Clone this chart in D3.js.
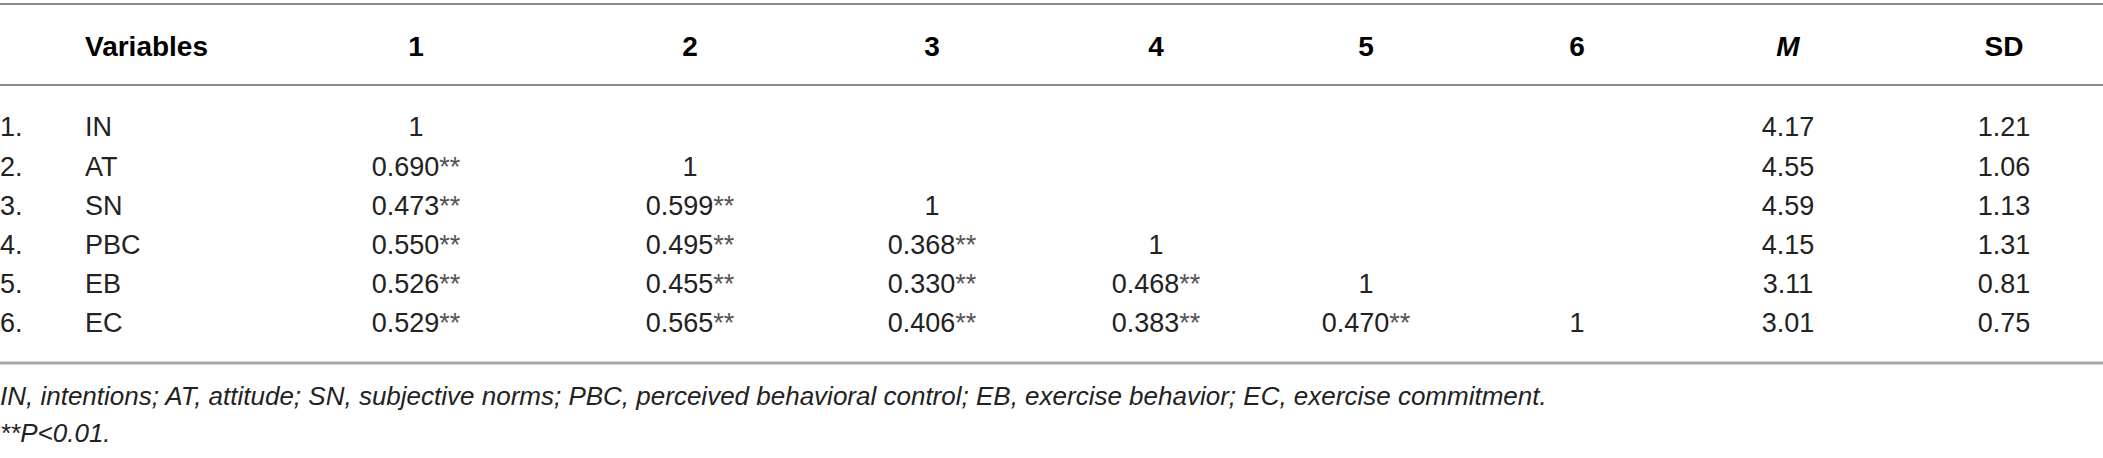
<!DOCTYPE html>
<html>
<meta charset="utf-8">
<head>
    <script src="https://d3js.org/d3.v7.min.js"></script>
    <style>
        body { margin: 0; background: #fff; }
        text { font-family: "Liberation Sans", Arial, sans-serif; }
    </style>
</head>
<body>
    <script>
        var width = 2103,
            height = 458;

        // table data
        var variables = ["IN", "AT", "SN", "PBC", "EB", "EC"];
        var headers = ["Variables", "1", "2", "3", "4", "5", "6", "M", "SD"];
        var corrAT = [0.690];
        var corrSN = [0.473, 0.599];
        var corrPBC = [0.550, 0.495, 0.368];
        var corrEB = [0.526, 0.455, 0.330, 0.468];
        var corrEC = [0.529, 0.565, 0.406, 0.383, 0.470];
        var means = [4.17, 4.55, 4.59, 4.15, 3.11, 3.01];
        var sds = [1.21, 1.06, 1.13, 1.31, 0.81, 0.75];
        var notes = [
            "IN, intentions; AT, attitude; SN, subjective norms; PBC, perceived behavioral control; EB, exercise behavior; EC, exercise commitment.",
            "**P<0.01."
        ];

        var corr = [[], corrAT, corrSN, corrPBC, corrEB, corrEC];

        var svg = d3.select("body").append("svg")
            .attr("width", width)
            .attr("height", height);

        // column centres (numeric columns are centred)
        var colX = [416, 690, 932, 1156, 1366, 1577, 1788, 2004];

        var y = d3.scalePoint()
            .domain(d3.range(variables.length))
            .range([127, 323]);

        var f3 = d3.format(".3f"),
            f2 = d3.format(".2f");

        // rules
        svg.append("line").attr("x1", 0).attr("x2", width).attr("y1", 4).attr("y2", 4)
            .attr("stroke", "#8c8c8c").attr("stroke-width", 2);
        svg.append("line").attr("x1", 0).attr("x2", width).attr("y1", 85).attr("y2", 85)
            .attr("stroke", "#8c8c8c").attr("stroke-width", 2);
        svg.append("line").attr("x1", 0).attr("x2", width).attr("y1", 363).attr("y2", 363)
            .attr("stroke", "#a8a8a8").attr("stroke-width", 3);

        // header
        var head = svg.append("g").attr("class", "header");
        head.append("text")
            .attr("x", 85).attr("y", 46)
            .attr("dy", "0.35em")
            .attr("font-size", 28).attr("font-weight", "bold")
            .text(headers[0]);
        head.selectAll("text.col")
            .data(headers.slice(1))
            .enter()
            .append("text")
            .attr("class", "col")
            .attr("x", function(d, i) { return colX[i]; })
            .attr("y", 46)
            .attr("dy", "0.35em")
            .attr("text-anchor", "middle")
            .attr("font-size", 28)
            .attr("font-weight", "bold")
            .attr("font-style", function(d) { return d === "M" ? "italic" : "normal"; })
            .text(function(d) { return d; });

        var rows = svg.selectAll("g.row")
            .data(variables)
            .enter()
            .append("g")
            .attr("class", "row")
            .attr("transform", function(d, i) { return "translate(0," + y(i) + ")"; });

        rows.append("text")
            .attr("x", 0).attr("dy", "0.35em")
            .attr("font-size", 27).attr("fill", "#222")
            .text(function(d, i) { return (i + 1) + "."; });

        rows.append("text")
            .attr("x", 85).attr("dy", "0.35em")
            .attr("font-size", 27).attr("fill", "#222")
            .text(function(d) { return d; });

        // correlation cells
        rows.each(function(d, i) {
            var g = d3.select(this);
            var cells = corr[i].map(function(v) { return { v: v, diag: false }; });
            cells.push({ v: 1, diag: true });
            cells.forEach(function(c, j) {
                var t = g.append("text")
                    .attr("x", colX[j])
                    .attr("dy", "0.35em")
                    .attr("text-anchor", "middle")
                    .attr("font-size", 27)
                    .attr("fill", "#222");
                if (c.diag) {
                    t.text("1");
                } else {
                    t.append("tspan").text(f3(c.v));
                    t.append("tspan").attr("fill", "#555").text("**");
                }
            });
            g.append("text")
                .attr("x", colX[6]).attr("dy", "0.35em")
                .attr("text-anchor", "middle")
                .attr("font-size", 27).attr("fill", "#222")
                .text(f2(means[i]));
            g.append("text")
                .attr("x", colX[7]).attr("dy", "0.35em")
                .attr("text-anchor", "middle")
                .attr("font-size", 27).attr("fill", "#222")
                .text(f2(sds[i]));
        });

        // footnotes
        svg.selectAll("text.note")
            .data(notes)
            .enter()
            .append("text")
            .attr("class", "note")
            .attr("x", 0)
            .attr("y", function(d, i) { return 396 + i * 37; })
            .attr("dy", "0.35em")
            .attr("font-size", 26)
            .attr("font-style", "italic")
            .attr("fill", "#222")
            .text(function(d) { return d; });
    </script>
</body>
</html>
